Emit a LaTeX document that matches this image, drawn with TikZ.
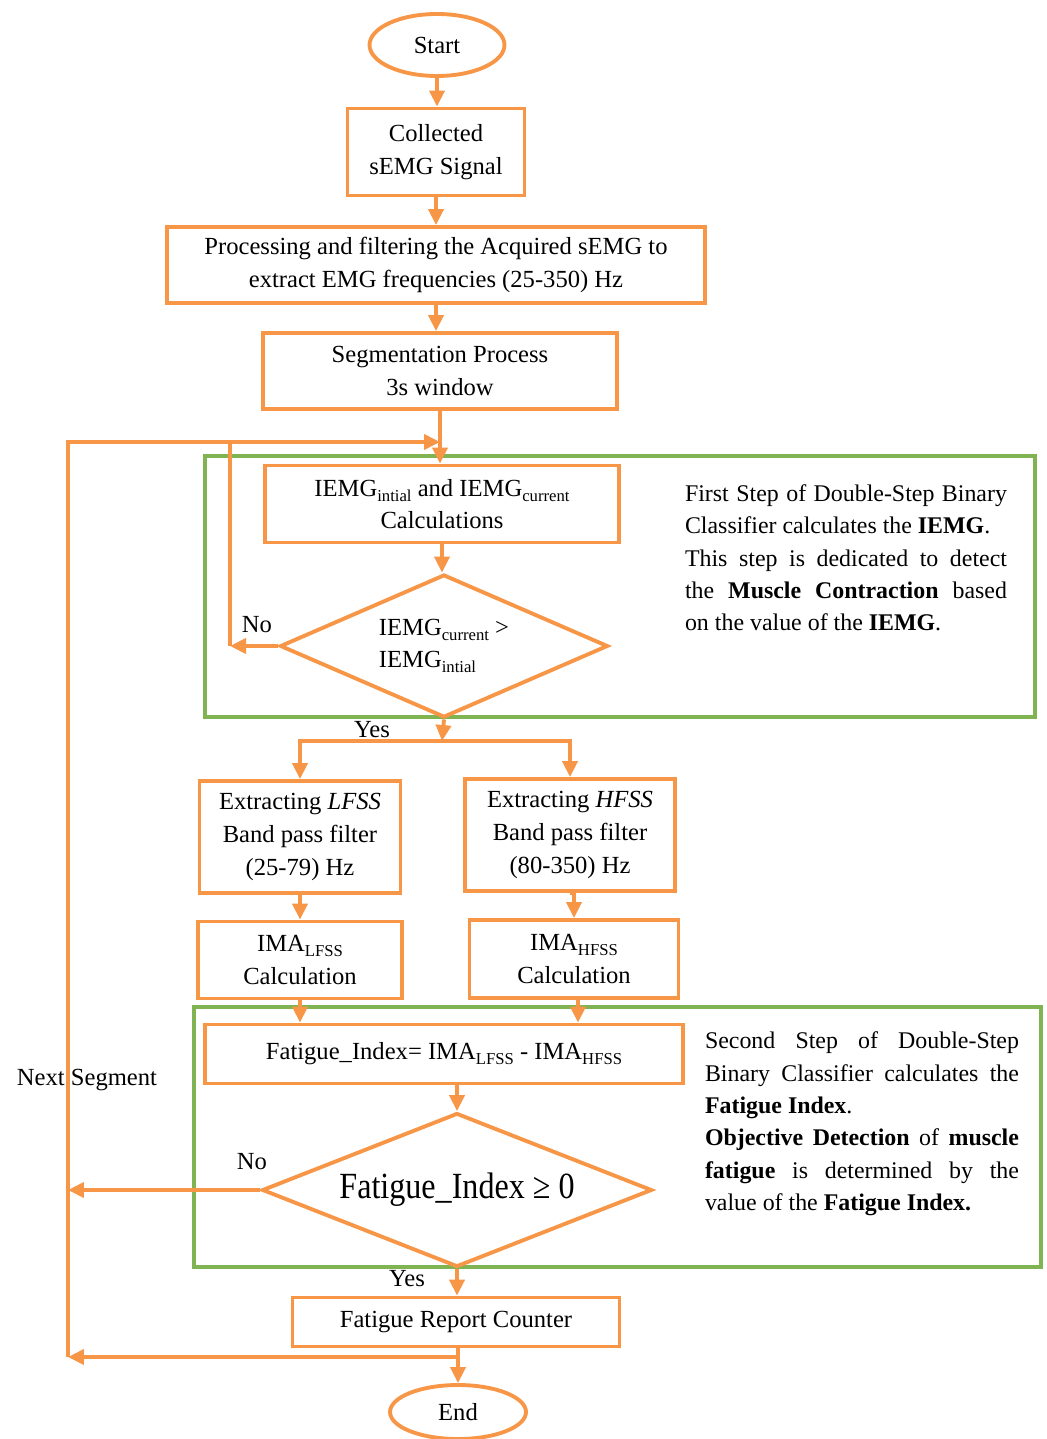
\documentclass[tikz,border=0pt]{standalone}
\usepackage{fontspec}
\setmainfont{Liberation Serif}
\usepackage{graphicx}
\usetikzlibrary{arrows.meta,shapes.geometric}
\definecolor{flowor}{RGB}{247,150,70}
\definecolor{flowgr}{RGB}{128,180,82}
\newcommand{\lowtxt}[1]{\raisebox{-0.45ex}{\fontsize{9.5}{9.5}\selectfont #1}}

\begin{document}
\begin{tikzpicture}[x=0.02cm,y=-0.02cm,>={Triangle[length=3.2mm,width=3mm]},
    font=\fontsize{14}{18.6}\selectfont,
    flow/.style={flowor,line width=2.2pt},
    box/.style={draw=flowor,line width=2.2pt,rectangle,align=center,inner sep=2pt},
    term/.style={draw=flowor,line width=2.2pt,ellipse,inner sep=0pt},
    test/.style={draw=flowor,line width=2.2pt,diamond,aspect=2.4,inner sep=0pt},
    stage/.style={draw=flowgr,line width=1.8pt},
    note/.style={align=justify,inner sep=0pt,font=\fontsize{13.6}{18.4}\selectfont}]
  \useasboundingbox (0,0) rectangle (1046,1439);
  % the two classifier steps
  \draw[stage] (205,456) rectangle (1035,717);
  \draw[stage] (194,1007) rectangle (1041,1267);

  \node[term,minimum width=2.7cm,minimum height=1.24cm] (start) at (437,45) {Start};
  \node[box,minimum width=3.54cm,minimum height=1.74cm] (collect) at (436,152)
    {Collected\\ sEMG Signal};
  \node[box,minimum width=10.76cm,minimum height=1.52cm] (filter) at (436,265)
    {Processing and filtering the Acquired sEMG to\\ extract EMG frequencies (25-350) Hz};
  \node[box,minimum width=7.08cm,minimum height=1.52cm] (segment) at (440,371)
    {Segmentation Process\\ 3s window};
  \node[box,minimum width=7.08cm,minimum height=1.54cm] (iemg) at (442,504)
    {IEMG\lowtxt{intial} and IEMG\lowtxt{current}\\ Calculations};
  \node[test,minimum width=6.56cm,minimum height=2.86cm,align=left] (contract) at (444,646)
    {IEMG\lowtxt{current} >\\ IEMG\lowtxt{intial}};

  \node[box,minimum width=4.02cm,minimum height=2.24cm] (lfss) at (300,837)
    {Extracting \textit{LFSS}\\ Band pass filter\\ (25-79) Hz};
  \node[box,minimum width=4.2cm,minimum height=2.24cm] (hfss) at (570,835)
    {Extracting \textit{HFSS}\\ Band pass filter\\ (80-350) Hz};
  \node[box,minimum width=4.08cm,minimum height=1.54cm] (imalow) at (300,960)
    {IMA\lowtxt{LFSS}\\ Calculation};
  \node[box,minimum width=4.18cm,minimum height=1.56cm] (imahigh) at (574,959)
    {IMA\lowtxt{HFSS}\\ Calculation};
  \node[box,minimum width=9.56cm,minimum height=1.18cm] (index) at (444,1054)
    {Fatigue\_Index= IMA\lowtxt{LFSS} - IMA\lowtxt{HFSS}};
  \node[test,minimum width=7.8cm,minimum height=3.08cm,aspect=2.5] (fatigue) at (457,1190)
    {\scalebox{0.87}[1]{\fontsize{21}{21}\selectfont Fatigue\_Index ≥ 0}};
  \node[box,minimum width=6.54cm,minimum height=0.98cm] (report) at (456,1322)
    {Fatigue Report Counter};
  \node[term,minimum width=2.72cm,minimum height=1.08cm] (end) at (458,1412) {End};

  \node[note,text width=6.44cm] (note1) at (846,558)
    {First Step of Double-Step Binary\linebreak
     Classifier calculates the \textbf{IEMG}.\\
     This step is dedicated to detect\linebreak
     the \textbf{Muscle Contraction} based\linebreak
     on the value of the \textbf{IEMG}.};
  \node[note,text width=6.28cm] (note2) at (862,1124)
    {Second Step of Double-Step\linebreak
     Binary Classifier calculates the\linebreak
     \textbf{Fatigue Index}.\\
     \textbf{Objective Detection} of \textbf{muscle}\linebreak
     \textbf{fatigue} is determined by the\linebreak
     value of the \textbf{Fatigue Index.}};

  \node (no1) at (257,625) {No};
  \node (yes1) at (372,730) {Yes};
  \node (no2) at (252,1162) {No};
  \node (yes2) at (407,1279) {Yes};
  \node (next) at (87,1080) {Next Segment};

  \coordinate (join) at (440,442);
  \coordinate (noturn) at (230,646);
  \coordinate (split) at (442,741);
  \coordinate (looptop) at (68,442);
  \coordinate (loopmid) at (68,1190);
  \coordinate (loopbot) at (68,1357);
  \coordinate (merge) at (458,1357);

  \draw[flow,->] (start.south) -- (start.south |- collect.north);
  \draw[flow,->] (collect.south) -- (collect.south |- filter.north);
  \draw[flow,->] (filter.south) -- (filter.south |- segment.north);
  \draw[flow,->] (segment.south) -- (segment.south |- iemg.north);
  \draw[flow,->] (iemg.south) -- (iemg.south |- contract.north);
  \draw[flow,->] (contract.west) -- (noturn);
  \draw[flow] (noturn) -- (noturn |- join);
  \draw[flow,->] (contract.south) -- (split);
  \draw[flow,->] (split) -| (lfss.north);
  \draw[flow,->] (split) -| (hfss.north);
  \draw[flow,->] (lfss.south) -- (lfss.south |- imalow.north);
  \draw[flow,->] (hfss.south) -- (hfss.south -| imahigh.north) -- (imahigh.north);
  \draw[flow,->] (imalow.south) -- (imalow.south |- index.north);
  \draw[flow,->] ([xshift=0.08cm]imahigh.south) -- ([xshift=0.08cm]imahigh.south |- index.north);
  \draw[flow,->] (index.south -| fatigue.north) -- (fatigue.north);
  \draw[flow,->] (fatigue.west) -- (loopmid);
  \draw[flow,->] (fatigue.south) -- (fatigue.south |- report.north);
  \draw[flow,->] (report.south -| end.north) -- (end.north);
  \draw[flow,->] (merge) -- (loopbot);
  \draw[flow,->] (loopbot) -- (looptop) -- (join);
\end{tikzpicture}
\end{document}
